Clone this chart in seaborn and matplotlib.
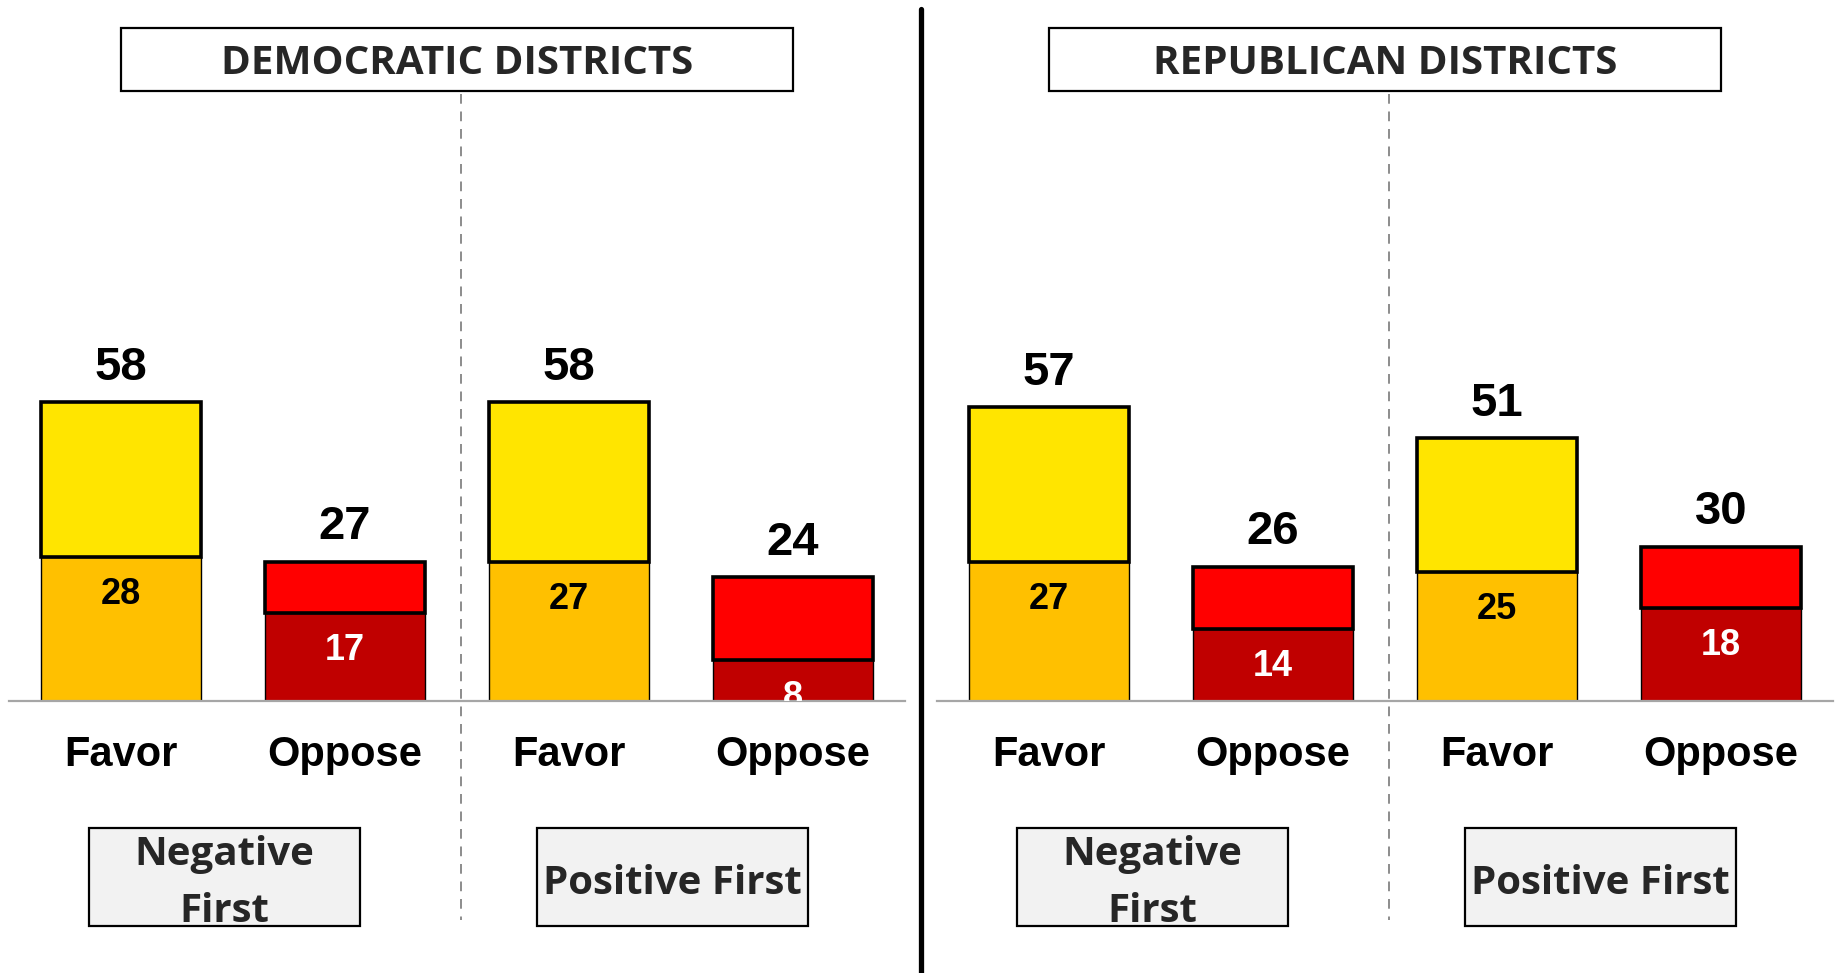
import matplotlib
matplotlib.use("Agg")
import matplotlib.pyplot as plt
import matplotlib.transforms as mtransforms
from matplotlib.patches import Rectangle
from matplotlib.lines import Line2D
import pandas as pd
import seaborn as sns

# data
districts = ["DEMOCRATIC DISTRICTS", "REPUBLICAN DISTRICTS"]
orders = ["Negative\nFirst", "Positive First"]
responses = ["Favor", "Oppose"]
dem_total = [58, 27, 58, 24]
dem_strong = [28, 17, 27, 8]
rep_total = [57, 26, 51, 30]
rep_strong = [27, 14, 25, 18]

strong_colors = {"Favor": "#FFC000", "Oppose": "#C00000"}
soft_colors = {"Favor": "#FFE500", "Oppose": "#FF0000"}
strong_text = {"Favor": "black", "Oppose": "white"}

rows = []
for d, tot, stg in [(districts[0], dem_total, dem_strong), (districts[1], rep_total, rep_strong)]:
    k = 0
    for o in orders:
        for r in responses:
            rows.append({"district": d, "order": o, "response": r,
                         "slot": o + "|" + r, "total": tot[k], "strong": stg[k]})
            k += 1
df = pd.DataFrame(rows)
slots = list(df["slot"].unique())

sns.set_style("white")
plt.rcParams["font.family"] = ["Liberation Sans", "DejaVu Sans"]

W, H = 1837, 973
fig = plt.figure(figsize=(W / 100, H / 100), dpi=100)

base_px = 701
top_px = 9
ax_h = base_px - top_px
px_per_unit = 5.15


def fy(y_px):
    # pixel row -> axes fraction
    return (base_px - y_px) / ax_h


lefts = [9, 937]
bw = 0.714
for d, left in zip(districts, lefts):
    ax = fig.add_axes([left / W, (H - base_px) / H, 896 / W, ax_h / H])
    sub = df[df["district"] == d].reset_index(drop=True)
    sns.barplot(data=sub, x="slot", y="strong", hue="response", order=slots,
                hue_order=responses, palette=strong_colors, dodge=False,
                saturation=1, width=bw, edgecolor="black", linewidth=1.0,
                errorbar=None, legend=False, ax=ax, zorder=2)
    ax.bar(range(len(sub)), sub["total"] - sub["strong"], bottom=sub["strong"],
           width=bw, color=[soft_colors[r] for r in sub["response"]],
           edgecolor="black", linewidth=2.6, zorder=3)

    for i, row in sub.iterrows():
        ax.annotate(str(row["total"]), (i, row["total"]), xytext=(0, 25),
                    textcoords="offset points", ha="center", va="center",
                    fontsize=34, fontweight="bold", color="black")
        ax.annotate(str(row["strong"]), (i, row["strong"]), xytext=(0, -27),
                    textcoords="offset points", ha="center", va="center",
                    fontsize=26, fontweight="bold", color=strong_text[row["response"]],
                    clip_on=True, zorder=5)

    ax.set_xlim(-0.5, 3.5)
    ax.set_ylim(0, ax_h / px_per_unit)
    ax.set_xticks([])
    ax.set_yticks([])
    ax.set_xlabel("")
    ax.set_ylabel("")
    sns.despine(ax=ax, left=True)
    ax.spines["bottom"].set_color("#A6A6A6")
    ax.spines["bottom"].set_linewidth(1.6)

    tr = mtransforms.blended_transform_factory(ax.transData, ax.transAxes)

    for i, r in enumerate(sub["response"]):
        ax.text(i, fy(755), r, transform=tr, ha="center", va="center",
                fontsize=30, fontweight="bold", color="black")

    # title box
    ax.add_patch(Rectangle((0, fy(91)), 3, fy(28) - fy(91), transform=tr,
                           facecolor="white", edgecolor="black", lw=1.6, clip_on=False))
    ax.text(1.5, fy(63), d, transform=tr, ha="center", va="center",
            fontsize=29, fontweight="bold", family=["Open Sans", "DejaVu Sans"])

    # separator between question orders
    ax.plot([1.52, 1.52], [fy(94), fy(920)], transform=tr, color="#8C8C8C",
            lw=1.4, ls=(0, (5, 4)), clip_on=False, zorder=1)

    # order boxes
    for j, o in enumerate(orders):
        cx = 2 * j + 0.46
        ax.add_patch(Rectangle((cx - 0.605, fy(926)), 1.21, fy(828) - fy(926),
                               transform=tr, facecolor="#F2F2F2", edgecolor="black",
                               lw=1.6, clip_on=False))
        ax.text(cx, fy(883), o, transform=tr, ha="center", va="center",
                fontsize=29, fontweight="bold", linespacing=1.58,
                family=["Open Sans", "DejaVu Sans"])

fig.add_artist(Line2D([921 / W, 921 / W], [0, 1 - 9 / H], color="black",
                      lw=3.8, solid_capstyle="round"))

fig.savefig("out.png", dpi=100)
